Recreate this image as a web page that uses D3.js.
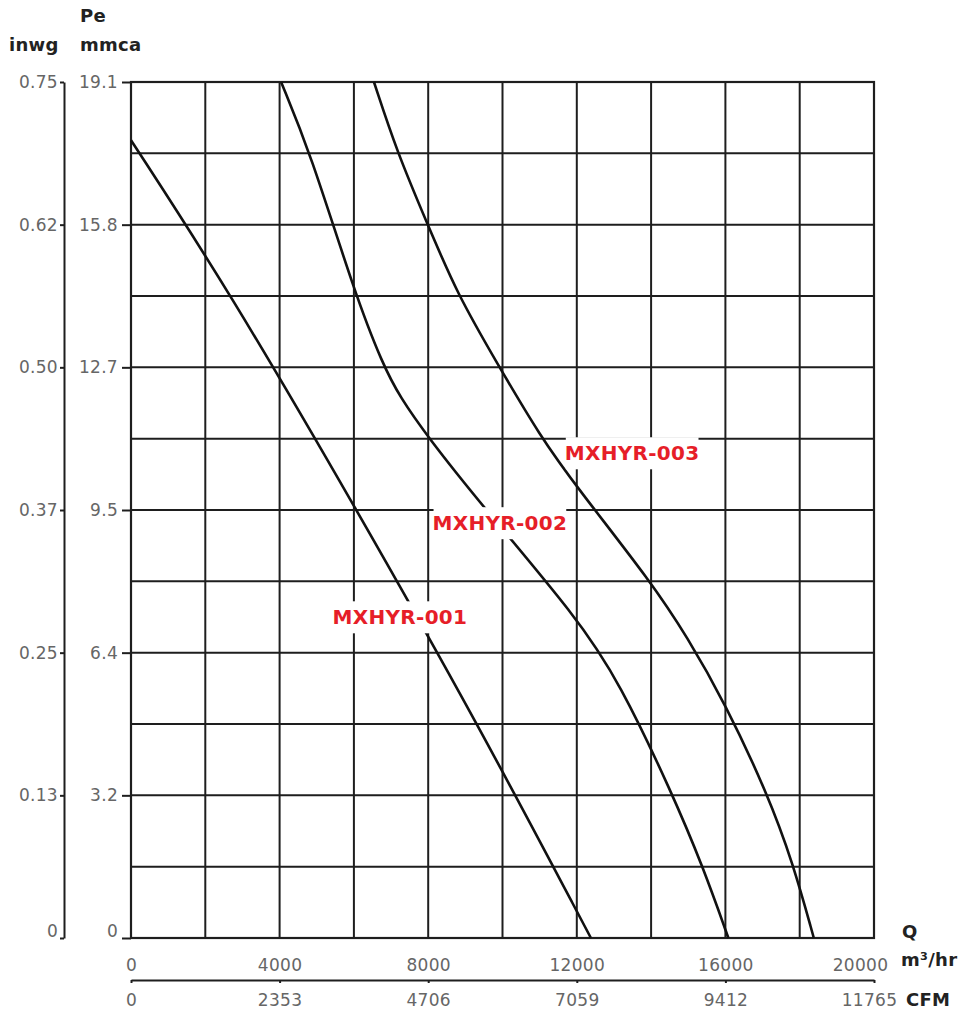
<!DOCTYPE html>
<html>
<head>
<meta charset="utf-8">
<script src="https://cdn.jsdelivr.net/npm/d3@7"></script>
<style>
  body { margin: 0; background: #fff; }
  text { font-family: "DejaVu Sans", sans-serif; }
</style>
</head>
<body>
<script>
// fan curves, Q in m3/hr, Pe in mmca
var fan001 = [[0, 17.8], [2660, 14.41], [6030, 9.62], [9310, 4.82], [12380, 0]]
var fan002 = [[4040, 19.1], [4820, 17.54], [6030, 14.37], [6780, 12.79], [7240, 12.07], [7970, 11.2], [9390, 9.71], [12000, 7.16], [13160, 5.69], [14560, 3.24], [15400, 1.58], [16080, 0]]
var fan003 = [[6540, 19.1], [7160, 17.54], [7970, 15.95], [8780, 14.37], [9880, 12.79], [11010, 11.2], [12000, 10.06], [14020, 7.92], [14970, 6.72], [15990, 5.24], [17120, 3.24], [17820, 1.67], [18380, 0]]
var curves = [fan001, fan002, fan003]
var curveNames = ["MXHYR-001", "MXHYR-002", "MXHYR-003"]
var labelAt = [[7240, 7.16], [9930, 9.26], [13490, 10.82]]   // label centre in data units

var qTicks = [0, 4000, 8000, 12000, 16000, 20000]
var cfmLabels = ["0", "2353", "4706", "7059", "9412", "11765"]
var mmcaLabels = ["0", "3.2", "6.4", "9.5", "12.7", "15.8", "19.1"]
var inwgLabels = ["0", "0.13", "0.25", "0.37", "0.50", "0.62", "0.75"]

var W = 961, H = 1017
var pL = 131, pR = 874, pT = 82, pB = 938

var svg = d3.select("body").append("svg")
    .attr("width", W).attr("height", H)

var x = d3.scaleLinear().domain([0, 20000]).range([pL, pR])
var y = d3.scaleLinear().domain([0, 19.1]).range([pB, pT])
var yIn = d3.scaleLinear().domain([0, 0.75]).range([pB, pT])

// grid
var grid = svg.append("g").attr("stroke", "#1e1e1e").attr("stroke-width", 2)
grid.selectAll(".v").data(d3.range(0, 20001, 2000)).enter().append("line")
    .attr("x1", d => x(d)).attr("x2", d => x(d))
    .attr("y1", pT).attr("y2", pB)
grid.selectAll(".h").data(d3.range(0, 13)).enter().append("line")
    .attr("x1", pL).attr("x2", pR)
    .attr("y1", d => y(19.1 * d / 12)).attr("y2", d => y(19.1 * d / 12))

// mmca axis (on the frame)
var mmcaAxis = d3.axisLeft(y)
    .tickValues(d3.range(0, 7).map(i => 19.1 * i / 6))
    .tickFormat((d, i) => mmcaLabels[i])
    .tickSize(9).tickPadding(4)
var gm = svg.append("g").attr("transform", "translate(" + pL + ",0)").call(mmcaAxis)
gm.select(".domain").remove()

// inwg axis, separate line
var inwgAxis = d3.axisLeft(yIn)
    .tickValues(d3.range(0, 7).map(i => 0.125 * i))
    .tickFormat((d, i) => inwgLabels[i])
    .tickSize(4).tickPadding(2).tickSizeOuter(0)
var gi = svg.append("g").attr("transform", "translate(64,0)").call(inwgAxis)

// Q axis labels below frame
var qAxis = d3.axisBottom(x).tickValues(qTicks).tickSize(0).tickPadding(21)
    .tickFormat(d3.format("d"))
var gq = svg.append("g").attr("transform", "translate(0," + pB + ")").call(qAxis)
gq.select(".domain").remove()
gq.selectAll(".tick").filter(d => d == 20000).select("text").attr("dx", -14)

// CFM axis
var cfmAxis = d3.axisBottom(x).tickValues(qTicks).tickSize(3).tickPadding(11).tickSizeOuter(0)
    .tickFormat((d, i) => cfmLabels[i])
var gc = svg.append("g").attr("transform", "translate(0,980)").call(cfmAxis)
gc.selectAll(".tick").filter(d => d == 20000).select("text").attr("dx", -5)

svg.selectAll(".tick text")
    .attr("font-size", 17).attr("fill", "#666")
    .attr("font-family", "DejaVu Sans, sans-serif")
    .attr("letter-spacing", 0.3)
svg.selectAll(".tick line, .domain").attr("stroke", "#1e1e1e").attr("stroke-width", 2)
gm.selectAll(".tick text").attr("dy", "0.32em").filter((d, i) => i == 0).attr("dy", "-0.1em")
gi.selectAll(".tick text").filter((d, i) => i == 0).attr("dy", "-0.1em")

// frame
svg.append("rect")
    .attr("x", pL).attr("y", pT)
    .attr("width", pR - pL).attr("height", pB - pT)
    .attr("fill", "none").attr("stroke", "#1e1e1e").attr("stroke-width", 2.2)

// curves
var line = d3.line().x(d => x(d[0])).y(d => y(d[1])).curve(d3.curveBasis)
svg.selectAll(".curve").data(curves).enter().append("path")
    .attr("d", line)
    .attr("fill", "none").attr("stroke", "#111").attr("stroke-width", 2.6)

// curve labels with white background
curveNames.forEach((name, i) => {
    var g = svg.append("g")
    var t = g.append("text")
        .attr("x", x(labelAt[i][0])).attr("y", y(labelAt[i][1]))
        .attr("text-anchor", "middle").attr("dy", "0.36em")
        .attr("font-size", 20).attr("font-weight", "bold")
        .attr("letter-spacing", 0.3)
        .attr("fill", "#e61e28").text(name)
    var b = t.node().getBBox()
    g.insert("rect", "text")
        .attr("x", b.x + 1).attr("y", b.y - 4)
        .attr("width", b.width - 2).attr("height", b.height + 8)
        .attr("fill", "#fff")
})

// axis titles
var titles = [["Pe", 80, 22], ["inwg", 9, 51], ["mmca", 80, 51], ["Q", 902, 938], ["m\u00b3/hr", 901, 966], ["CFM", 906, 1006]]
svg.selectAll(".title").data(titles).enter().append("text")
    .attr("x", d => d[1]).attr("y", d => d[2])
    .attr("font-size", 18).attr("font-weight", "bold").attr("fill", "#222")
    .attr("letter-spacing", 0.3)
    .text(d => d[0])
</script>
</body>
</html>
